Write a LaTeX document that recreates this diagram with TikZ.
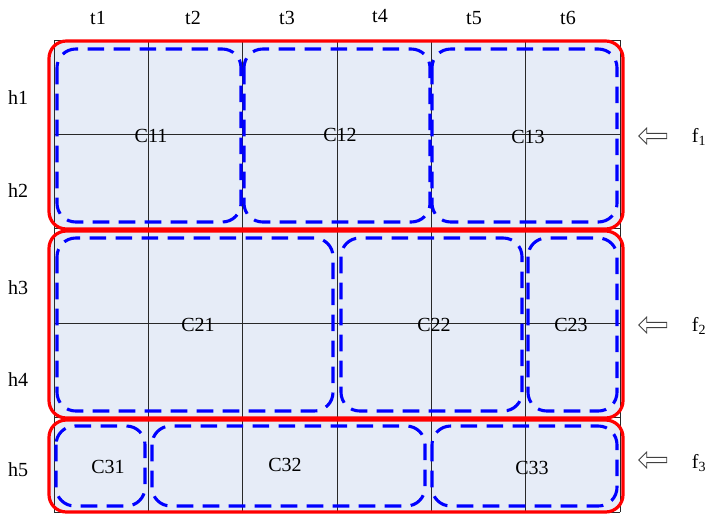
\documentclass[tikz,border=0pt]{standalone}
\usepackage{fontspec}
\setmainfont{Liberation Serif}
\usetikzlibrary{shapes.arrows}
\definecolor{cellfill}{RGB}{230,236,247}
\definecolor{gridc}{RGB}{40,40,40}
\tikzset{
  block/.style={draw=red, line width=2.4pt, rounded corners=13pt},
  blockfill/.style={fill=cellfill, rounded corners=13pt},
  cluster/.style={draw=blue, line width=2.3pt, dash pattern=on 12.5pt off 7pt, rounded corners=14pt},
  gridline/.style={draw=gridc, line width=0.7pt},
  lbl/.style={font=\fontsize{15pt}{17pt}\selectfont, inner sep=1pt},
  hollowarrow/.style={single arrow, draw=gray!50!black, fill=white, line width=0.6pt,
    shape border rotate=180, minimum height=21pt, minimum width=12pt,
    single arrow head extend=3.5pt, single arrow tip angle=90, inner sep=1.4pt}
}
\begin{document}
\begin{tikzpicture}[x=0.75pt,y=-0.75pt]
\useasboundingbox (0,0) rectangle (724,515);
% fills
\fill[blockfill] (49,41) rectangle (623,229);
\fill[blockfill] (49,231) rectangle (623,418);
\fill[blockfill] (49,419) rectangle (623,512);
% grid
\foreach \x in {54,148.3,242.7,337,431.3,525.7,620}
  \draw[gridline] (\x,40) -- (\x,512);
\foreach \y in {40,134.4,228.8,323.2,417.6,512}
  \draw[gridline] (54,\y) -- (620,\y);
% clusters
\draw[cluster] (57,49) rectangle (241,222);
\draw[cluster] (244,49) rectangle (430,222);
\draw[cluster] (432,49) rectangle (617,222);
\draw[cluster] (57,238) rectangle (333,411);
\draw[cluster] (341,238) rectangle (522,411);
\draw[cluster] (528,238) rectangle (617,411);
\draw[cluster] (56,426) rectangle (145,506);
\draw[cluster] (152,426) rectangle (425,506);
\draw[cluster] (432,426) rectangle (617,506);
% blocks
\draw[block] (49,41) rectangle (623,229);
\draw[block] (49,231) rectangle (623,418);
\draw[block] (49,420) rectangle (623,512);
% column labels
\node[lbl] (t1) at (98,18) {t1};
\node[lbl] (t2) at (193,18) {t2};
\node[lbl] (t3) at (287,18) {t3};
\node[lbl] (t4) at (380,16) {t4};
\node[lbl] (t5) at (474,18) {t5};
\node[lbl] (t6) at (568,18) {t6};
% row labels
\node[lbl] (h1) at (18,98) {h1};
\node[lbl] (h2) at (18,191) {h2};
\node[lbl] (h3) at (18,288) {h3};
\node[lbl] (h4) at (18,380) {h4};
\node[lbl] (h5) at (18,470) {h5};
% cluster labels
\node[lbl] (C11) at (151,136) {C11};
\node[lbl] (C12) at (340,135) {C12};
\node[lbl] (C13) at (528,137) {C13};
\node[lbl] (C21) at (198,325) {C21};
\node[lbl] (C22) at (434,325) {C22};
\node[lbl] (C23) at (571,325) {C23};
\node[lbl] (C31) at (108,467) {C31};
\node[lbl] (C32) at (285,465) {C32};
\node[lbl] (C33) at (532,468) {C33};
% arrows and f labels
\node[hollowarrow] (a1) at (654,136) {};
\node[hollowarrow] (a2) at (654,325) {};
\node[hollowarrow] (a3) at (654,460) {};
\node[lbl] (f1) at (699,137) {f\textsubscript{1}};
\node[lbl] (f2) at (699,326) {f\textsubscript{2}};
\node[lbl] (f3) at (699,463) {f\textsubscript{3}};
\end{tikzpicture}
\end{document}
